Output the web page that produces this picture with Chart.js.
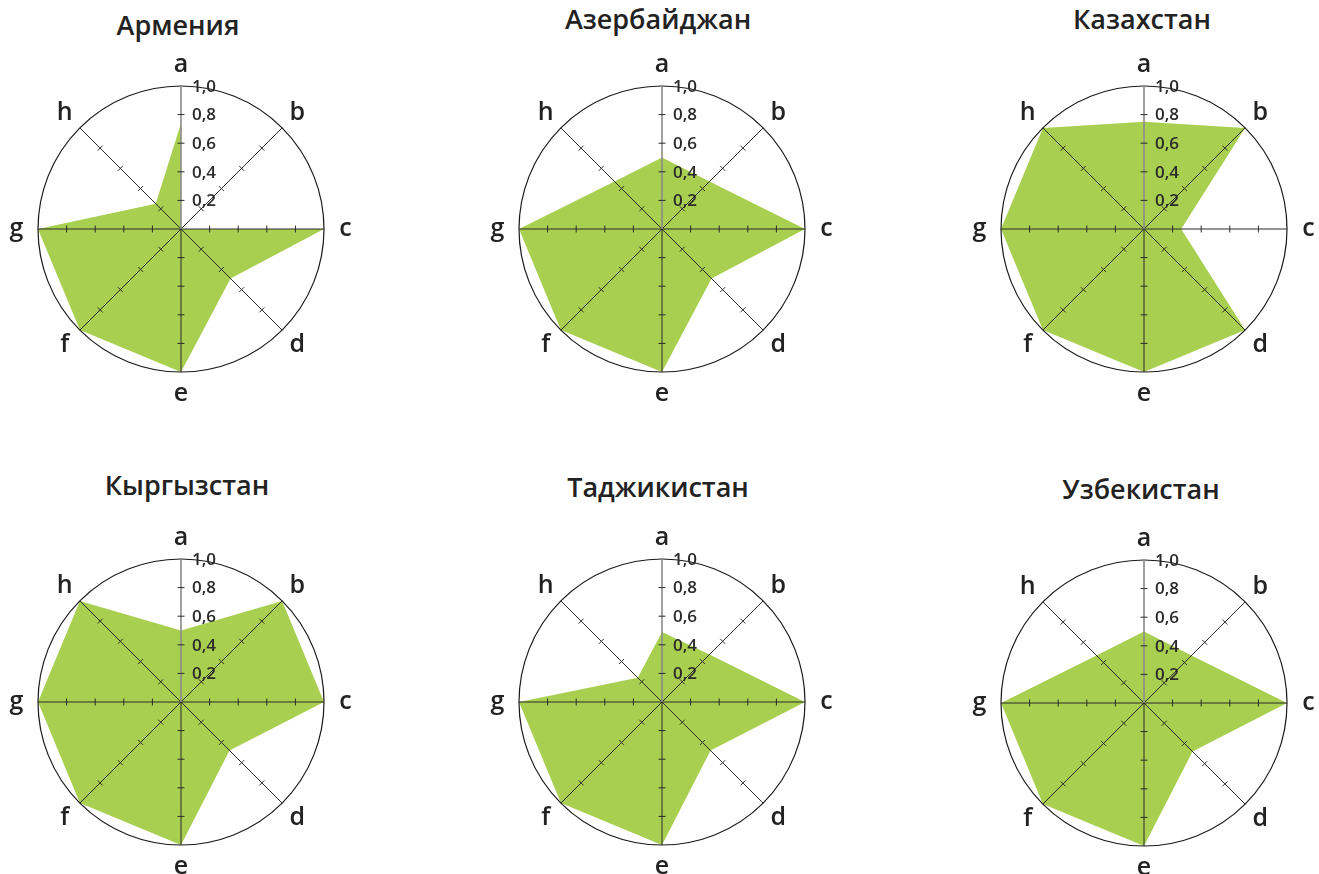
<!DOCTYPE html>
<html>
<head>
<meta charset="utf-8">
<script src="https://cdn.jsdelivr.net/npm/chart.js@4"></script>
<style>
    html, body { margin: 0; padding: 0; background: #fff; overflow: hidden; }
    body { width: 1319px; height: 874px; position: relative; font-family: "Open Sans", sans-serif; }
    .title { position: absolute; width: 300px; text-align: center; font-size: 27px; font-weight: 600; color: #222; line-height: 1; }
    canvas { position: absolute; }
</style>
</head>
<body>
<script>
const categories = ["a", "b", "c", "d", "e", "f", "g", "h"];
const tickValues = [0.2, 0.4, 0.6, 0.8, 1.0];
const tickLabels = ["0,2", "0,4", "0,6", "0,8", "1,0"];

const armenia = [0.74, 0, 1, 0.49, 1, 1, 1, 0.25];
const azerbaijan = [0.5, 0.47, 1, 0.49, 1, 1, 1, 0.47];
const kazakhstan = [0.75, 1, 0.26, 1, 1, 1, 1, 1];
const kyrgyzstan = [0.5, 1, 1, 0.48, 1, 1, 1, 1];
const tajikistan = [0.49, 0.47, 1, 0.48, 1, 1, 1, 0.24];
const uzbekistan = [0.5, 0.47, 1, 0.48, 1, 1, 1, 0.47];

const countries = ["Армения", "Азербайджан", "Казахстан", "Кыргызстан", "Таджикистан", "Узбекистан"];
const seriesList = [armenia, azerbaijan, kazakhstan, kyrgyzstan, tajikistan, uzbekistan];

// layout: center of each radar and title position
const centers = [[181, 229], [662, 229], [1144, 229], [181, 702], [662, 702], [1144, 703]];
const titlePos = [[178, 11], [658, 5], [1142, 5], [187, 471], [658, 473], [1141, 475]];

const SIZE = 360;

// small cross marks on spokes, tick labels and category letters
const decorations = {
    id: "decorations",
    afterDraw(chart) {
        const ctx = chart.ctx;
        const scale = chart.scales.r;
        ctx.save();
        ctx.strokeStyle = "#2b2b2b";
        ctx.lineWidth = 1;
        for (let i = 0; i < categories.length; i++) {
            const angle = scale.getIndexAngle(i) - Math.PI / 2;
            const px = -Math.sin(angle), py = Math.cos(angle);
            tickValues.slice(0, 4).forEach((v) => {
                const p = scale.getPointPositionForValue(i, v);
                ctx.beginPath();
                ctx.moveTo(p.x - px * 3.5, p.y - py * 3.5);
                ctx.lineTo(p.x + px * 3.5, p.y + py * 3.5);
                ctx.stroke();
            });
        }
        ctx.fillStyle = "#2a2a2a";
        ctx.font = "600 17px 'Open Sans'";
        ctx.textAlign = "left";
        ctx.textBaseline = "middle";
        tickValues.forEach((v, k) => {
            const p = scale.getPointPositionForValue(0, v);
            ctx.fillText(tickLabels[k], p.x + 11, p.y + 1);
        });
        ctx.fillStyle = "#222";
        ctx.font = "600 25px 'Open Sans'";
        ctx.textAlign = "center";
        categories.forEach((c, i) => {
            const p = scale.getPointPositionForValue(i, 1.15);
            ctx.fillText(c, p.x, p.y);
        });
        ctx.restore();
    },
};

countries.forEach((name, k) => {
    const [cx, cy] = centers[k];
    const title = document.createElement("div");
    title.className = "title";
    title.textContent = name;
    title.style.left = titlePos[k][0] - 150 + "px";
    title.style.top = titlePos[k][1] + "px";
    document.body.appendChild(title);

    const canvas = document.createElement("canvas");
    canvas.width = SIZE;
    canvas.height = SIZE;
    canvas.style.left = cx - SIZE / 2 + "px";
    canvas.style.top = cy - SIZE / 2 + "px";
    document.body.appendChild(canvas);

    new Chart(canvas, {
        type: "radar",
        data: {
            labels: categories,
            datasets: [
                {
                    data: seriesList[k],
                    fill: true,
                    backgroundColor: "rgb(168, 207, 80)",
                    borderWidth: 0,
                    pointRadius: 0,
                    tension: 0,
                },
            ],
        },
        options: {
            responsive: false,
            animation: false,
            layout: { padding: 37 },
            plugins: {
                legend: { display: false },
                tooltip: { enabled: false },
            },
            scales: {
                r: {
                    min: 0,
                    max: 1,
                    beginAtZero: true,
                    ticks: { display: false, stepSize: 0.2 },
                    pointLabels: { display: false },
                    grid: {
                        z: 1,
                        circular: true,
                        lineWidth: 1.2,
                        color: (c) => (c.tick && c.tick.value > 0.99 ? "#1a1a1a" : "rgba(0,0,0,0)"),
                    },
                    angleLines: {
                        lineWidth: (c) => (c.index === 0 ? 1.6 : 1),
                        color: (c) => (c.index === 0 ? "#8a8a8a" : "#2b2b2b"),
                    },
                },
            },
        },
        plugins: [decorations],
    });
});
</script>
</body>
</html>
